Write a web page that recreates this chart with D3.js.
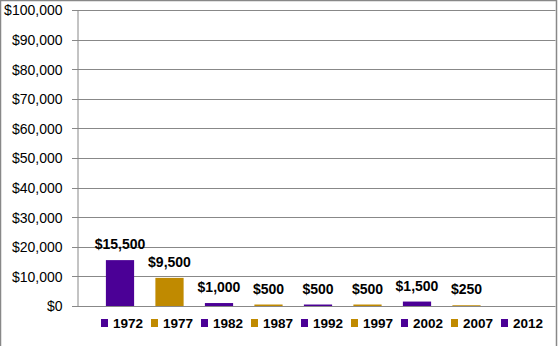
<!DOCTYPE html>
<html><head><meta charset="utf-8">
<script src="https://cdn.jsdelivr.net/npm/d3@7"></script>
<style>body{margin:0;background:#fff}svg{display:block}</style>
</head><body>
<script>
const years = ["1972","1977","1982","1987","1992","1997","2002","2007","2012"];
const values = [15500, 9500, 1000, 500, 500, 500, 1500, 250, 0];
const labels = ["$15,500","$9,500","$1,000","$500","$500","$500","$1,500","$250",""];
const colors = ["#4b0096","#c08a00","#4b0096","#c08a00","#4b0096","#c08a00","#4b0096","#c08a00","#4b0096"];
const yTicks = [0,10000,20000,30000,40000,50000,60000,70000,80000,90000,100000];

const W = 558, H = 346;
const svg = d3.select("body").append("svg").attr("width", W).attr("height", H);
const font = "'Liberation Sans', Arial, sans-serif";

// outer border
svg.append("path").attr("d", `M0.5,${H} V0.5 H556.5 V${H}`).attr("fill","none").attr("stroke","#888").attr("stroke-width",1.5);

const x0 = 77, x1 = 555.5;
const y = d3.scaleLinear().domain([0,100000]).range([306, 10]);
const x = d3.scaleBand().domain(years).range([95.25, 540.75]).paddingInner(0.43).paddingOuter(0.215);

// gridlines
svg.append("g").selectAll("line").data(yTicks).join("line")
  .attr("x1", x0 - 5).attr("x2", x1)
  .attr("y1", d => Math.round(y(d)) + 0.5).attr("y2", d => Math.round(y(d)) + 0.5)
  .attr("stroke", "#888").attr("stroke-width", 1);

// y axis
const yAxis = d3.axisLeft(y).tickValues(yTicks).tickSize(0).tickPadding(15)
  .tickFormat(d => "$" + d3.format(",")(d));
const ga = svg.append("g").attr("transform", `translate(${x0 + 0.5},0.5)`).call(yAxis);
ga.select(".domain").attr("stroke", "#888");
ga.selectAll("text").attr("font-family", font).attr("font-size", 14).attr("fill", "#000");

// bars
svg.append("g").selectAll("rect").data(years).join("rect")
  .attr("x", d => x(d)).attr("width", x.bandwidth())
  .attr("y", (d,i) => y(values[i])).attr("height", (d,i) => y(0) - y(values[i]))
  .attr("fill", (d,i) => colors[i]);

// data labels
svg.append("g").selectAll("text").data(years).join("text")
  .attr("x", d => x(d) + x.bandwidth()/2)
  .attr("y", (d,i) => y(values[i]) - 11)
  .attr("text-anchor", "middle")
  .attr("font-family", font).attr("font-size", 14).attr("font-weight", "bold")
  .text((d,i) => labels[i]);

// legend
const lg = svg.append("g");
years.forEach((yr, i) => {
  const lx = 101 + i * 50;
  lg.append("rect").attr("x", lx).attr("y", 319).attr("width", 7).attr("height", 8).attr("fill", colors[i]);
  lg.append("text").attr("x", lx + 12).attr("y", 328)
    .attr("font-family", font).attr("font-size", 13.5).attr("font-weight", "bold").text(yr);
});
</script>
</body></html>
